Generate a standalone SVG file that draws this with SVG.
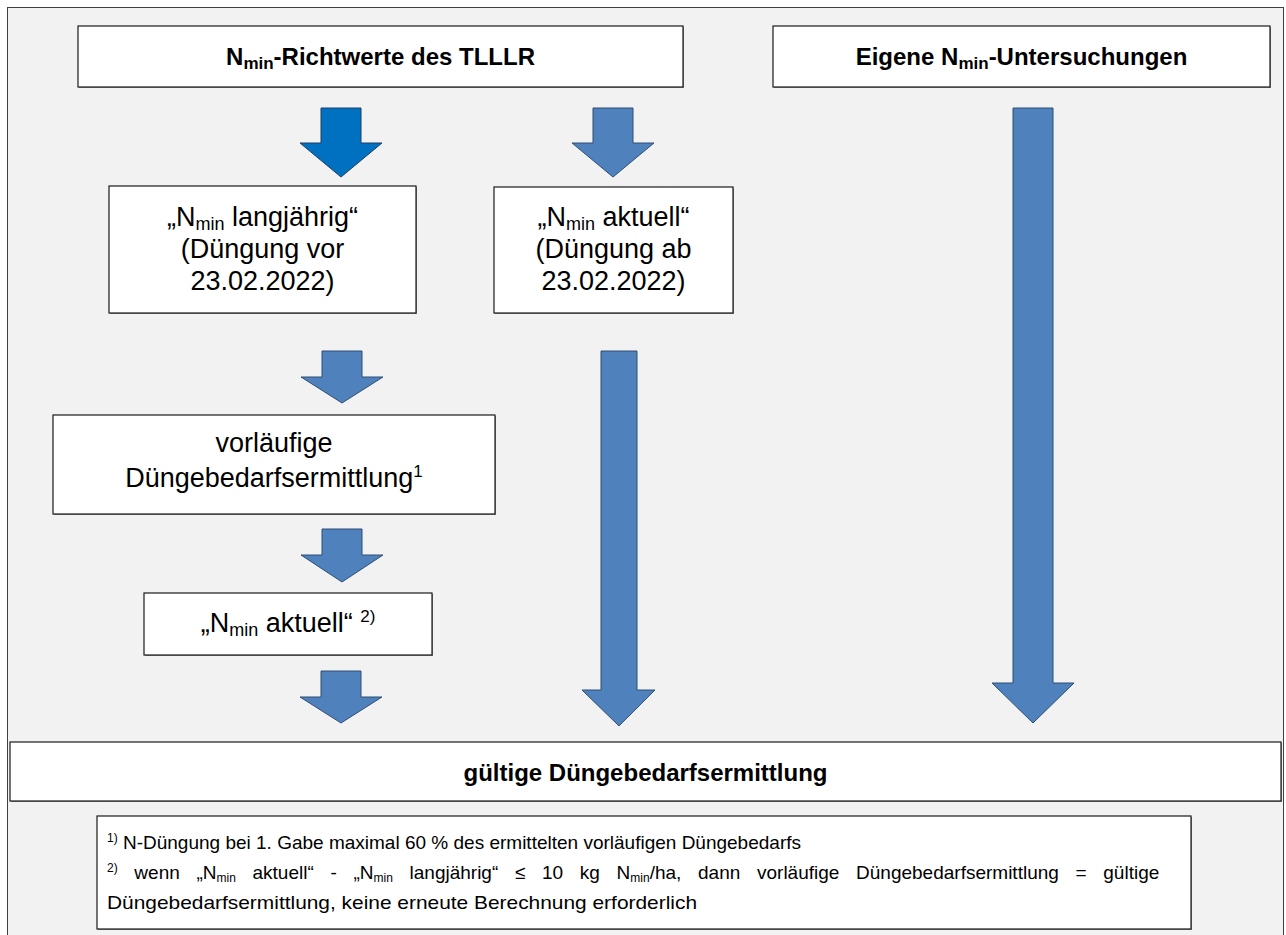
<svg xmlns="http://www.w3.org/2000/svg" width="1286" height="935" viewBox="0 0 1286 935">
<style>
.box{fill:#fff;stroke:#1a1a1a;stroke-width:1.2}
.shadow{fill:#8c8c8c}
.t{font-family:"Liberation Sans",Arial,sans-serif;fill:#000}
.title{font-size:24px;font-weight:bold}
.body{font-size:27px}
.foot{font-size:19px}
.arr{fill:#4f81bd;stroke:#2f4f73;stroke-width:1}
.arrd{fill:#0070c0;stroke:#1f3f66;stroke-width:1}
</style>
<rect x="7.5" y="7.5" width="1276" height="940" fill="#f2f2f2" stroke="#404040" stroke-width="1"/>

<g id="connectors">
<polygon class="arrd" points="321,108 361,108 361,143 382,143 341,177 300,143 321,143"/>
<polygon class="arr" points="593,108 633,108 633,143 654,143 613,177 572,143 593,143"/>
<polygon class="arr" points="1013,108 1053,108 1053,683 1074,683 1033,723 992,683 1013,683"/>
<polygon class="arr" points="601,351 637,351 637,690 655,690 619,726 582,690 601,690"/>
<polygon class="arr" points="322,351 362,351 362,377 383,377 342,403 301,377 322,377"/>
<polygon class="arr" points="322,529 362,529 362,555 383,555 342,582 301,555 322,555"/>
<polygon class="arr" points="321,671 361,671 361,697 382,697 341,723 300,697 321,697"/>
</g>

<g id="node-richtwerte">
<rect class="shadow" x="79" y="27" width="605" height="61"/>
<rect class="box" x="78" y="26" width="605" height="61"/>
<text class="t title" x="380.5" y="65" text-anchor="middle">N<tspan font-size="17" dy="4">min</tspan><tspan dy="-4">-Richtwerte des TLLLR</tspan></text>
</g>

<g id="node-eigene">
<rect class="shadow" x="774" y="27" width="497" height="61"/>
<rect class="box" x="773" y="26" width="497" height="61"/>
<text class="t title" x="1021.5" y="65" text-anchor="middle">Eigene N<tspan font-size="17" dy="4">min</tspan><tspan dy="-4">-Untersuchungen</tspan></text>
</g>

<g id="node-langjaehrig">
<rect class="shadow" x="110" y="187" width="307" height="127"/>
<rect class="box" x="109" y="186" width="307" height="127"/>
<text class="t body" x="262.5" y="226" text-anchor="middle">„N<tspan font-size="18" dy="4">min</tspan><tspan dy="-4"> langjährig“</tspan></text>
<text class="t body" x="262.5" y="258" text-anchor="middle">(Düngung vor</text>
<text class="t body" x="262.5" y="290" text-anchor="middle">23.02.2022)</text>
</g>

<g id="node-aktuell">
<rect class="shadow" x="495" y="188" width="239" height="126"/>
<rect class="box" x="494" y="187" width="239" height="126"/>
<text class="t body" x="613.5" y="226" text-anchor="middle">„N<tspan font-size="18" dy="4">min</tspan><tspan dy="-4"> aktuell“</tspan></text>
<text class="t body" x="613.5" y="258" text-anchor="middle">(Düngung ab</text>
<text class="t body" x="613.5" y="290" text-anchor="middle">23.02.2022)</text>
</g>

<g id="node-vorlaeufig">
<rect class="shadow" x="54" y="416" width="442" height="99"/>
<rect class="box" x="53" y="415" width="442" height="99"/>
<text class="t body" x="274" y="452" text-anchor="middle">vorläufige</text>
<text class="t body" x="274" y="487" text-anchor="middle">Düngebedarfsermittlung<tspan font-size="17" dy="-10">1</tspan></text>
</g>

<g id="node-aktuell2">
<rect class="shadow" x="145" y="594" width="288" height="62"/>
<rect class="box" x="144" y="593" width="288" height="62"/>
<text class="t body" x="288" y="632" text-anchor="middle">„N<tspan font-size="18" dy="4">min</tspan><tspan dy="-4"> aktuell“ </tspan><tspan font-size="17" dy="-10">2)</tspan></text>
</g>

<g id="node-gueltig">
<rect class="shadow" x="11" y="743" width="1271" height="59"/>
<rect class="box" x="10" y="742" width="1271" height="59"/>
<text class="t title" x="645.5" y="781" text-anchor="middle" font-size="26">gültige Düngebedarfsermittlung</text>
</g>

<g id="node-fussnoten">
<rect class="shadow" x="98" y="817" width="1094" height="113"/>
<rect class="box" x="97" y="816" width="1094" height="113"/>
<text class="t foot" x="107" y="849"><tspan font-size="12" dy="-7">1)</tspan><tspan dy="7"> N-Düngung bei 1. Gabe maximal 60 % des ermittelten vorläufigen Düngebedarfs</tspan></text>
<text class="t foot" x="107" y="879" word-spacing="11.4"><tspan font-size="12" dy="-7">2)</tspan><tspan dy="7"> wenn „N</tspan><tspan font-size="12" dy="3">min</tspan><tspan dy="-3"> aktuell“ - „N</tspan><tspan font-size="12" dy="3">min</tspan><tspan dy="-3"> langjährig“ ≤ 10 kg N</tspan><tspan font-size="12" dy="3">min</tspan><tspan dy="-3">/ha, dann vorläufige Düngebedarfsermittlung = gültige</tspan></text>
<text class="t foot" x="107" y="909" textLength="590" lengthAdjust="spacingAndGlyphs">Düngebedarfsermittlung, keine erneute Berechnung erforderlich</text>
</g>
</svg>
